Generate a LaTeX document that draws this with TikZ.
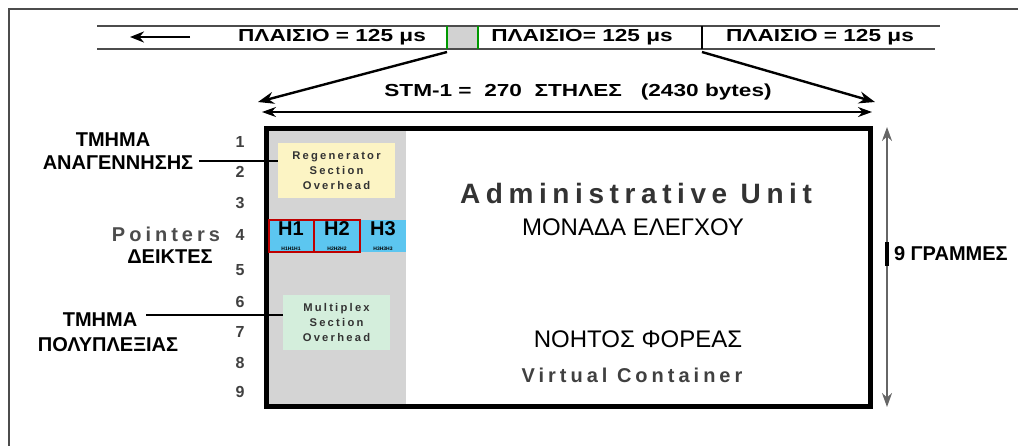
\documentclass[tikz,border=0pt]{standalone}
\usepackage{fontspec}
\setmainfont{Liberation Sans}
\newfontfamily\bandfont[FakeStretch=1.3]{Liberation Sans}
\newfontfamily\spacedfont[LetterSpace=20]{Liberation Sans}
\usetikzlibrary{arrows.meta}
\definecolor{ptrblue}{HTML}{5CC6F0}
\definecolor{rsoyellow}{HTML}{FCF4C4}
\definecolor{msohgreen}{HTML}{D4EEDC}

\begin{document}
\begin{tikzpicture}[x=0.5pt,y=-0.5pt]
		\tikzstyle{every node}=[inner sep=0pt, outer sep=0pt]
		\tikzstyle{frame label}=[font=\bandfont\bfseries\fontsize{8.7}{10}\selectfont]
		\tikzstyle{row num}=[font=\bfseries\fontsize{8}{9}\selectfont, text=black!75]
		\tikzstyle{side label}=[font=\bfseries\fontsize{10}{12}\selectfont]
		\tikzstyle{oh box}=[minimum height=27.5pt, align=center, text=black!80, font=\spacedfont\bfseries\fontsize{5.6}{7.5}\selectfont]
		\tikzstyle{ptr}=[minimum height=16pt, align=center, font=\bfseries\fontsize{10}{9}\selectfont]
		\tikzstyle{big arrow}=[line width=1.2pt, -{Stealth[length=8pt,width=6pt]}]
		\useasboundingbox (0,0) rectangle (1018,446);
		\draw[black!70, line width=1pt] (1018,9) -- (9,9) -- (9,446);
		
		% Frames
		\draw[black!70, line width=0.8pt] (97,26) -- (940,26) (97,49) -- (935,49);
		\fill[gray!35] (447,27) rectangle (478,48);
		\draw[green!60!black, line width=0.8pt] (447,26) -- (447,49) (478,26) -- (478,49);
		\draw[line width=0.8pt] (702,26) -- (702,49);
		\coordinate (back1) at (190,37);
		\coordinate (back2) at (130,37);
		\draw[line width=1.2pt, -{Stealth[length=7pt,width=5.5pt]}] (back1) -- (back2);
		\node[frame label] (f1) at (332,37) {ΠΛΑΙΣΙΟ = 125 μs};
		\node[frame label] (f2) at (582,37) {ΠΛΑΙΣΙΟ= 125 μs};
		\node[frame label] (f3) at (820,37) {ΠΛΑΙΣΙΟ = 125 μs};
		
		% STM-1
		\fill[black!17] (268,130) rectangle (406,404);
		\fill[ptrblue] (268,220) rectangle (406,252);
		\node[draw, line width=2.5pt, minimum width=302pt, minimum height=139pt] (stm) at (568,267) {};
		\coordinate (sL) at (447,52);
		\coordinate (sR) at (702,52);
		\coordinate (tL) at (258,102);
		\coordinate (tR) at (875,102);
		\draw[big arrow] (sL) -- (tL);
		\draw[big arrow] (sR) -- (tR);
		\coordinate (wL) at (262,112);
		\coordinate (wR) at (872,112);
		\draw[line width=0.8pt, {Stealth[length=7pt,width=5pt]}-{Stealth[length=7pt,width=5pt]}] (wL) -- (wR);
		\node[frame label] (cols) at (578,92) {STM-1 =\ \ 270\ \ ΣΤΗΛΕΣ\ \ \ (2430 bytes)};
		
		% 9 rows
		\coordinate (hT) at (887,127);
		\coordinate (hB) at (887,407);
		\draw[black!60, line width=1pt, {Stealth[length=7pt,width=5pt]}-{Stealth[length=7pt,width=5pt]}] (hT) -- (hB);
		\node[side label, anchor=west] (rows) at (894,254) {9 ΓΡΑΜΜΕΣ};
		\draw[line width=2pt] (887,242) -- (887,266);
		\foreach \r/\y in {1/142,2/172,3/203,4/235,5/270,6/302,7/332,8/363,9/392}
			\node[row num] (r\r) at (240,\y) {\r};
		
		% Overheads
		\node[oh box, fill=rsoyellow, minimum width=58.5pt] (rso) at (336.5,170.5) {Regenerator\\Section\\Overhead};
		\node[oh box, fill=msohgreen, minimum width=53.5pt] (msoh) at (336.5,322.5) {Multiplex\\Section\\Overhead};
		\node[ptr, draw=red!75!black, line width=1pt, minimum width=22.5pt] (h1) at (291,236) {H1\\[-1.5pt]{\fontsize{2.5}{3}\selectfont H1H1H1}};
		\node[ptr, draw=red!75!black, line width=1pt, minimum width=23pt] (h2) at (337,236) {H2\\[-1.5pt]{\fontsize{2.5}{3}\selectfont H2H2H2}};
		\node[ptr, minimum width=22.5pt] (h3) at (383,236) {H3\\[-1.5pt]{\fontsize{2.5}{3}\selectfont H3H3H3}};
		
		% Left labels
		\node[side label] (regen1) at (113,140) {ΤΜΗΜΑ};
		\node[side label] (regen2) at (118,163) {ΑΝΑΓΕΝΝΗΣΗΣ};
		\node[font=\spacedfont\bfseries\fontsize{10}{12}\selectfont, text=black!70] (ptr1) at (166,234) {Pointers};
		\node[side label] (ptr2) at (170,257) {ΔΕΙΚΤΕΣ};
		\node[side label] (mux1) at (100,320) {ΤΜΗΜΑ};
		\node[side label] (mux2) at (108,345) {ΠΟΛΥΠΛΕΞΙΑΣ};
		\draw[line width=0.8pt] ([xshift=3pt,yshift=1pt]regen2.east) -- ([yshift=1pt]regen2.east -| rso.west);
		\draw[line width=0.8pt] ([xshift=4.5pt,yshift=2.5pt]mux1.east) -- ([yshift=2.5pt]mux1.east -| msoh.west);
		
		% AU / VC
		\node[font=\spacedfont\bfseries\fontsize{14}{16}\selectfont, text=black!80] (au) at (636,193) {Administrative Unit};
		\node[font=\fontsize{12}{14}\selectfont] (au2) at (633,227) {ΜΟΝΑΔΑ ΕΛΕΓΧΟΥ};
		\node[font=\fontsize{12}{14}\selectfont] (vc2) at (638,339) {ΝΟΗΤΟΣ ΦΟΡΕΑΣ};
		\node[font=\spacedfont\bfseries\fontsize{10}{12}\selectfont, text=black!75] (vc) at (632,375) {Virtual Container};
	\end{tikzpicture}
\end{document}
